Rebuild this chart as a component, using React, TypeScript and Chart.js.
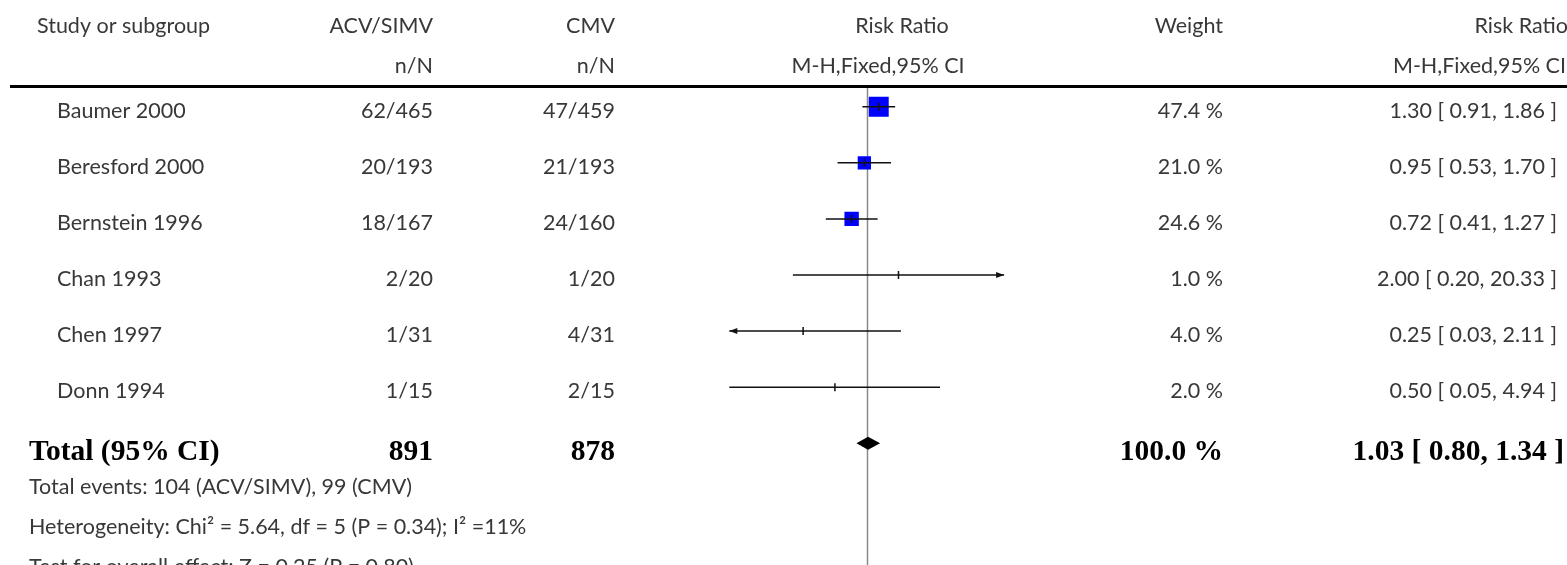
import React, { useEffect, useRef } from "react";
import { Chart, registerables } from "chart.js";

Chart.register(...registerables);

// ---- data ----
const studies = ["Baumer 2000", "Beresford 2000", "Bernstein 1996", "Chan 1993", "Chen 1997", "Donn 1994"];
const acvEvents = [62, 20, 18, 2, 1, 1];
const acvTotals = [465, 193, 167, 20, 31, 15];
const cmvEvents = [47, 21, 24, 1, 4, 2];
const cmvTotals = [459, 193, 160, 20, 31, 15];
const riskRatios = [1.3, 0.95, 0.72, 2.0, 0.25, 0.5];
const ciLower = [0.91, 0.53, 0.41, 0.2, 0.03, 0.05];
const ciUpper = [1.86, 1.7, 1.27, 20.33, 2.11, 4.94];
const weights = [47.4, 21.0, 24.6, 1.0, 4.0, 2.0];

const totalLabel = "Total (95% CI)";
const totalAcv = 891;
const totalCmv = 878;
const totalRR = 1.03;
const totalLower = 0.8;
const totalUpper = 1.34;
const totalWeight = 100.0;

const axisMin = 0.05;
const axisMax = 20;

const headerRow1 = ["Study or subgroup", "ACV/SIMV", "CMV", "Risk Ratio", "Weight", "Risk Ratio"];
const headerRow2 = ["n/N", "n/N", "M-H,Fixed,95% CI", "M-H,Fixed,95% CI"];
const footnotes = [
  "Total events: 104 (ACV/SIMV), 99 (CMV)",
  "Heterogeneity: Chi\u00B2 = 5.64, df = 5 (P = 0.34); I\u00B2 =11%",
  "Test for overall effect: Z = 0.25 (P = 0.80)",
];

// ---- style / layout ----
const FONT = "Lato, 'Open Sans', sans-serif";
const REG = `21.5px ${FONT}`;
const BOLD = `bold 29.5px 'Liberation Serif', 'DejaVu Serif', serif`;
const TXT = "#383838";

const boxSide = (w: number) => 2.9 * Math.sqrt(w);

const fmt2 = (v: number) => v.toFixed(2);
const ciText = (r: number, l: number, u: number) => `${fmt2(r)} [ ${fmt2(l)}, ${fmt2(u)} ]`;

const forestPlugin = {
  id: "forest",
  beforeDatasetsDraw(chart: any) {
    const { ctx, chartArea } = chart;
    const xs = chart.scales.x;
    ctx.save();
    // header rule
    ctx.strokeStyle = "#000";
    ctx.lineWidth = 3;
    ctx.beginPath();
    ctx.moveTo(10, 86.5);
    ctx.lineTo(chart.width, 86.5);
    ctx.stroke();
    // line of no effect
    const x1 = Math.round(xs.getPixelForValue(1)) + 0.5;
    ctx.strokeStyle = "#8a8a8a";
    ctx.lineWidth = 1.5;
    ctx.beginPath();
    ctx.moveTo(x1, chartArea.top);
    ctx.lineTo(x1, chartArea.bottom);
    ctx.stroke();
    ctx.restore();
  },
  afterDatasetsDraw(chart: any) {
    const { ctx } = chart;
    const xs = chart.scales.x;
    const ys = chart.scales.y;
    ctx.save();
    ctx.strokeStyle = "#111";
    ctx.fillStyle = "#111";
    ctx.lineWidth = 1.5;
    studies.forEach((_, i) => {
      const y = ys.getPixelForValue(i);
      const lo = Math.max(ciLower[i], axisMin);
      const hi = Math.min(ciUpper[i], axisMax);
      const xl = xs.getPixelForValue(lo);
      const xr = xs.getPixelForValue(hi);
      ctx.beginPath();
      ctx.moveTo(xl, y);
      ctx.lineTo(xr, y);
      ctx.stroke();
      if (ciLower[i] < axisMin) {
        ctx.beginPath();
        ctx.moveTo(xl, y);
        ctx.lineTo(xl + 8, y - 3);
        ctx.lineTo(xl + 8, y + 3);
        ctx.closePath();
        ctx.fill();
      }
      if (ciUpper[i] > axisMax) {
        ctx.beginPath();
        ctx.moveTo(xr, y);
        ctx.lineTo(xr - 8, y - 3);
        ctx.lineTo(xr - 8, y + 3);
        ctx.closePath();
        ctx.fill();
      }
      const xe = xs.getPixelForValue(riskRatios[i]);
      ctx.beginPath();
      ctx.moveTo(xe, y - 4);
      ctx.lineTo(xe, y + 4);
      ctx.stroke();
    });
    // diamond
    const ty = ys.getPixelForValue(studies.length);
    const dl = xs.getPixelForValue(totalLower);
    const dc = xs.getPixelForValue(totalRR);
    const dr = xs.getPixelForValue(totalUpper);
    ctx.fillStyle = "#000";
    ctx.beginPath();
    ctx.moveTo(dl, ty);
    ctx.lineTo(dc, ty - 6.5);
    ctx.lineTo(dr, ty);
    ctx.lineTo(dc, ty + 6.5);
    ctx.closePath();
    ctx.fill();

    // ---- text ----
    const colStudyHead = 37;
    const colStudy = 57;
    const colAcv = 433;
    const colCmv = 615;
    const colWeight = 1223;
    const colCI = 1557;
    const put = (t: string, x: number, y: number, align: CanvasTextAlign, font = REG, color = TXT) => {
      ctx.font = font;
      ctx.fillStyle = color;
      ctx.textAlign = align;
      ctx.textBaseline = "alphabetic";
      ctx.fillText(t, x, y);
    };
    const h1 = 33;
    const h2 = 73;
    put(headerRow1[0], colStudyHead, h1, "left");
    put(headerRow1[1], colAcv, h1, "right");
    put(headerRow1[2], colCmv, h1, "right");
    put(headerRow1[3], 902, h1, "center");
    put(headerRow1[4], colWeight, h1, "right");
    put(headerRow1[5], 1568, h1, "right");
    put(headerRow2[0], colAcv, h2, "right");
    put(headerRow2[1], colCmv, h2, "right");
    put(headerRow2[2], 878, h2, "center");
    put(headerRow2[3], 1566, h2, "right");

    studies.forEach((s, i) => {
      const y = ys.getPixelForValue(i) + 11;
      put(s, colStudy, y, "left");
      put(`${acvEvents[i]}/${acvTotals[i]}`, colAcv, y, "right");
      put(`${cmvEvents[i]}/${cmvTotals[i]}`, colCmv, y, "right");
      put(`${weights[i].toFixed(1)} %`, colWeight, y, "right");
      put(ciText(riskRatios[i], ciLower[i], ciUpper[i]), colCI, y, "right");
    });
    const tb = ty + 16.5;
    put(totalLabel, 29, tb, "left", BOLD, "#000");
    put(String(totalAcv), colAcv, tb, "right", BOLD, "#000");
    put(String(totalCmv), colCmv, tb, "right", BOLD, "#000");
    put(`${totalWeight.toFixed(1)} %`, colWeight, tb, "right", BOLD, "#000");
    put(ciText(totalRR, totalLower, totalUpper), 1564, tb, "right", BOLD, "#000");
    footnotes.forEach((f, k) => {
      put(f, 29, ty + 51 + 40 * k, "left");
    });
    ctx.restore();
  },
};

export default function App() {
  const ref = useRef<HTMLCanvasElement>(null);
  useEffect(() => {
    const canvas = ref.current!;
    const W = 1567;
    const left = 729.3;
    const right = 1004.1;
    const chart = new Chart(canvas, {
      type: "scatter",
      data: {
        datasets: [
          {
            data: studies.map((_, i) => ({ x: riskRatios[i], y: i })),
            pointStyle: "rect",
            pointRadius: weights.map((w) => (boxSide(w) < 8 ? 0 : boxSide(w) / Math.SQRT2)),
            pointHoverRadius: weights.map((w) => (boxSide(w) < 8 ? 0 : boxSide(w) / Math.SQRT2)),
            backgroundColor: "#0000ff",
            borderColor: "#0000ff",
            borderWidth: 0,
          },
        ],
      },
      options: {
        animation: false,
        responsive: false,
        events: [],
        layout: { autoPadding: false, padding: { left: left, right: W - right, top: 88, bottom: 0 } },
        scales: {
          x: { type: "logarithmic", min: axisMin, max: axisMax, display: false },
          y: { type: "linear", min: -0.333, max: 8.17, reverse: true, display: false },
        },
        plugins: { legend: { display: false }, tooltip: { enabled: false } },
      },
      plugins: [forestPlugin],
    });
    return () => chart.destroy();
  }, []);
  return (
    <div style={{ position: "fixed", left: 0, top: 0, width: 1567, height: 565, background: "#fff" }}>
      <canvas ref={ref} width={1567} height={565} style={{ width: 1567, height: 565, display: "block" }} />
    </div>
  );
}
